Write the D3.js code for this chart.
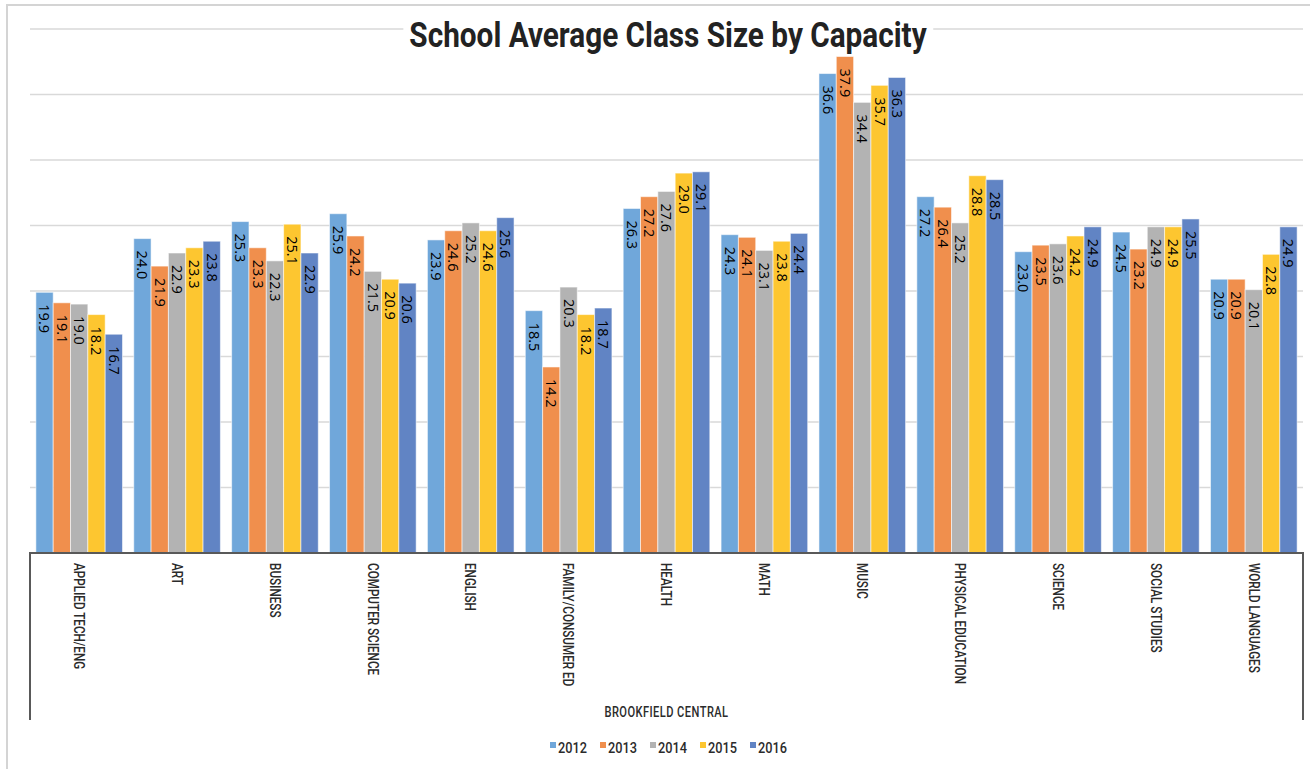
<!DOCTYPE html>
<html>
<head>
<meta charset="utf-8">
<script src="https://cdn.jsdelivr.net/npm/d3@7/dist/d3.min.js"></script>
<style>
    html, body { margin: 0; padding: 0; background: #fff; }
    svg { display: block; }
    .narrow { font-family: "Roboto", "Liberation Sans", sans-serif; }
</style>
</head>
<body>
<svg id="chart" width="1310" height="769"></svg>
<script>

/* chart data */
var subjects = ["APPLIED TECH/ENG", "ART", "BUSINESS", "COMPUTER SCIENCE", "ENGLISH",
    "FAMILY/CONSUMER ED", "HEALTH", "MATH", "MUSIC", "PHYSICAL EDUCATION",
    "SCIENCE", "SOCIAL STUDIES", "WORLD LANGUAGES"];

var years = ["2012", "2013", "2014", "2015", "2016"];

var v2012 = [19.9, 24.0, 25.3, 25.9, 23.9, 18.5, 26.3, 24.3, 36.6, 27.2, 23.0, 24.5, 20.9];
var v2013 = [19.1, 21.9, 23.3, 24.2, 24.6, 14.2, 27.2, 24.1, 37.9, 26.4, 23.5, 23.2, 20.9];
var v2014 = [19.0, 22.9, 22.3, 21.5, 25.2, 20.3, 27.6, 23.1, 34.4, 25.2, 23.6, 24.9, 20.1];
var v2015 = [18.2, 23.3, 25.1, 20.9, 24.6, 18.2, 29.0, 23.8, 35.7, 28.8, 24.2, 24.9, 22.8];
var v2016 = [16.7, 23.8, 22.9, 20.6, 25.6, 18.7, 29.1, 24.4, 36.3, 28.5, 24.9, 25.5, 24.9];

var gridTicks = [5, 10, 15, 20, 25, 30, 35, 40];
var groupLabel = "BROOKFIELD CENTRAL";
var title = "School Average Class Size by Capacity";

var seriesValues = [v2012, v2013, v2014, v2015, v2016];
var colors = ["#70a7da", "#f08f4d", "#b3b3b3", "#fdc630", "#6184c4"];

var rows = subjects.map(function (s, i) {
    var r = {subject: s};
    years.forEach(function (y, j) {
        r[y] = seriesValues[j][i];
    });
    return r;
});

var svg = d3.select("svg");

// note: "top" is a reserved window property, so plot edges get their own names
var plotLeft = 30, plotRight = 1303, plotTop = 29, plotBase = 553;
var squeeze = 0.78;   // narrow look for the condensed chart font
var titleSqueeze = 0.85;

// outer frame
svg.append("rect")
    .attr("x", 7).attr("y", 5)
    .attr("width", 1330).attr("height", 800)
    .attr("fill", "none")
    .attr("stroke", "#d4d4d4")
    .attr("stroke-width", 2);

var x0 = d3.scaleBand()
    .domain(subjects)
    .range([plotLeft, plotRight])
    .paddingInner(0.115)
    .paddingOuter(0.06);

var x1 = d3.scaleBand()
    .domain(years)
    .range([0, x0.bandwidth()]);

var y = d3.scaleLinear()
    .domain([0, 40])
    .range([plotBase, plotTop]);

var color = d3.scaleOrdinal().domain(years).range(colors);

// grid
svg.append("g")
    .selectAll("line")
    .data(gridTicks)
    .enter().append("line")
    .attr("x1", plotLeft).attr("x2", plotRight)
    .attr("y1", function (d) { return y(d); })
    .attr("y2", function (d) { return y(d); })
    .attr("stroke", "#d9d9d9")
    .attr("stroke-width", 1.3);

// title (white box hides the grid line behind it)
var titleG = svg.append("g");
var titleBg = titleG.append("rect").attr("fill", "#fff");
var titleText = titleG.append("text")
    .attr("class", "narrow")
    .attr("transform", "translate(668,47) scale(" + titleSqueeze + ",1)")
    .attr("text-anchor", "middle")
    .style("font-size", "35px")
    .style("font-weight", "bold")
    .style("fill", "#222")
    .text(title);
var tb = titleText.node().getBBox();
titleBg.attr("x", 668 + tb.x * titleSqueeze - 6).attr("y", 47 + tb.y)
    .attr("width", tb.width * titleSqueeze + 12).attr("height", tb.height);

// bars
var groups = svg.append("g")
    .selectAll("g")
    .data(rows)
    .enter().append("g")
    .attr("transform", function (d) { return "translate(" + x0(d.subject) + ",0)"; });

var bars = groups.selectAll("g")
    .data(function (d) {
        return years.map(function (yr) { return {year: yr, value: d[yr]}; });
    })
    .enter().append("g");

bars.append("rect")
    .attr("x", function (d) { return x1(d.year); })
    .attr("y", function (d) { return y(d.value); })
    .attr("width", x1.bandwidth())
    .attr("height", function (d) { return plotBase - y(d.value); })
    .attr("fill", function (d) { return color(d.year); })
    .attr("stroke", "rgba(255,255,255,0.55)")
    .attr("stroke-width", 1);

bars.append("text")
    .attr("transform", function (d) {
        return "translate(" + (x1(d.year) + x1.bandwidth() / 2) + "," + (y(d.value) + 12) + ") rotate(90)";
    })
    .attr("dy", "0.35em")
    .style("font-family", "'Open Sans', 'Noto Sans', sans-serif")
    .style("font-size", "14.5px")
    .style("fill", "#000")
    .text(function (d) { return d3.format(".1f")(d.value); });

// category axis bracket
svg.append("path")
    .attr("d", "M" + plotLeft + ",720V" + plotBase + "H" + plotRight + "V720")
    .attr("stroke", "#595959")
    .attr("stroke-width", 2)
    .attr("fill", "none");

svg.append("g")
    .selectAll("text")
    .data(subjects)
    .enter().append("text")
    .attr("class", "narrow")
    .attr("transform", function (d) {
        return "translate(" + (x0(d) + x0.bandwidth() / 2) + ",563) rotate(90) scale(" + squeeze + ",1)";
    })
    .attr("dy", "0.35em")
    .style("font-size", "15px")
    .style("font-weight", "500")
    .style("fill", "#2b2b2b")
    .text(function (d) { return d; });

svg.append("text")
    .attr("class", "narrow")
    .attr("transform", "translate(" + (plotLeft + plotRight) / 2 + ",717) scale(0.74,1)")
    .attr("text-anchor", "middle")
    .style("font-size", "15px")
    .style("font-weight", "500")
    .style("letter-spacing", "0.6px")
    .style("fill", "#2b2b2b")
    .text(groupLabel);

// legend
var legend = svg.append("g")
    .selectAll("g")
    .data(years)
    .enter().append("g")
    .attr("transform", function (d, i) { return "translate(" + (550 + i * 50) + ",742)"; });

legend.append("rect")
    .attr("width", 6).attr("height", 6)
    .attr("fill", function (d) { return color(d); });

legend.append("text")
    .attr("class", "narrow")
    .attr("transform", "translate(8,11) scale(0.85,1)")
    .style("font-size", "15px")
    .style("font-weight", "500")
    .style("fill", "#2b2b2b")
    .text(function (d) { return d; });

</script>
</body>
</html>
